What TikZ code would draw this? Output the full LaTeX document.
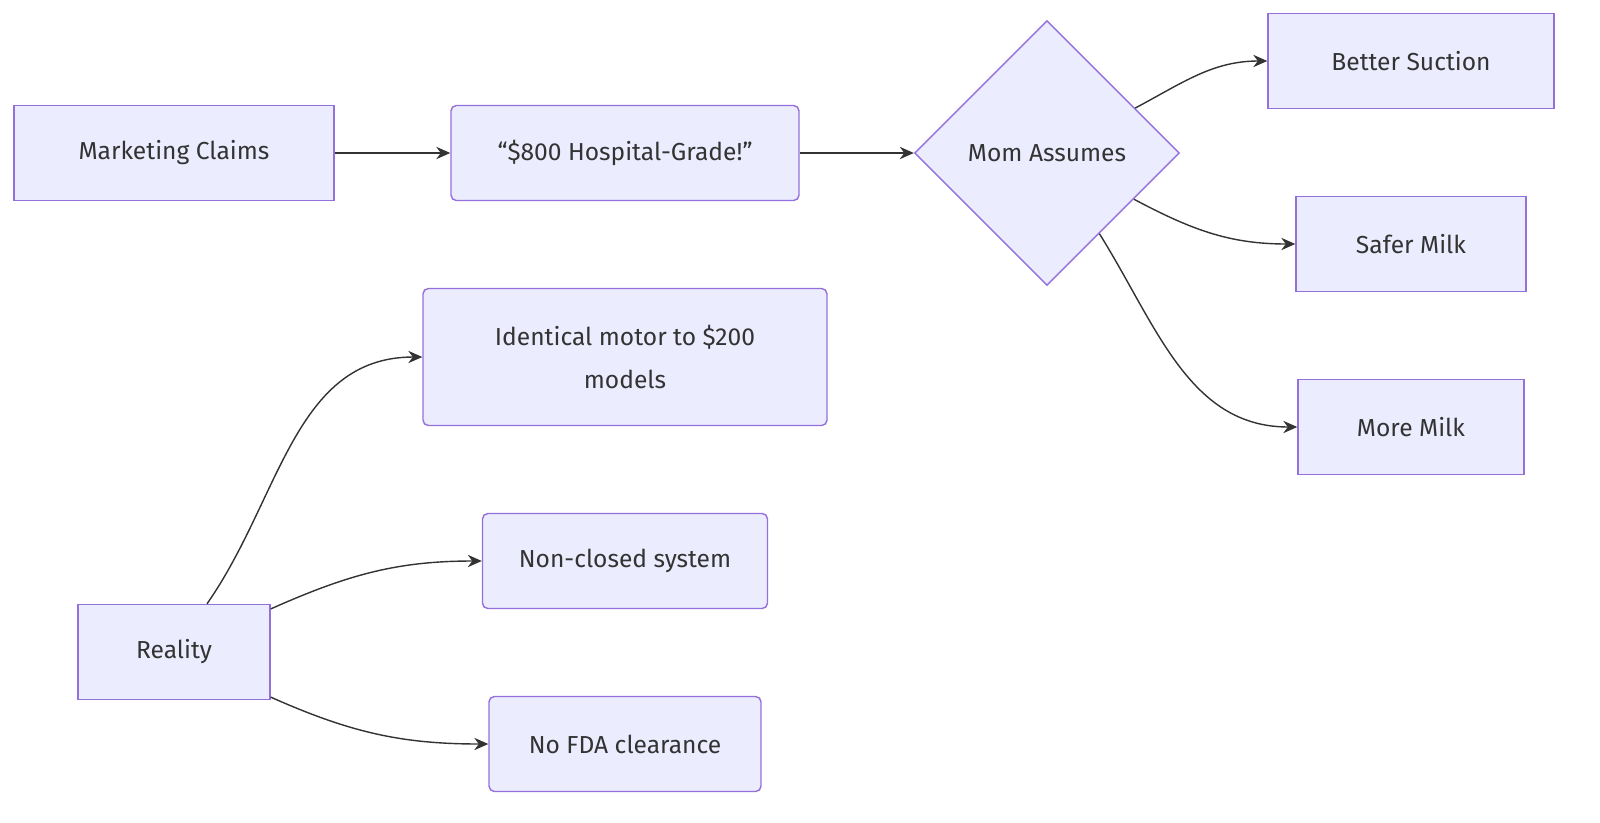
\documentclass[tikz,border=0pt]{standalone}
\usepackage{fontspec}
\setmainfont{Fira Sans}
\usetikzlibrary{shapes.geometric,arrows.meta}
\definecolor{boxfill}{HTML}{ECECFF}
\definecolor{boxline}{HTML}{9370DB}
\definecolor{edge}{HTML}{333333}
\begin{document}
\begin{tikzpicture}[
		x=0.02cm, y=-0.02cm,
		every node/.style = {font=\fontsize{14}{20}\selectfont, text=edge},
		box/.style = {
			draw=boxline,
			fill=boxfill,
			line width=0.8pt,
			minimum height=1.9cm,
			align=center
		},
		rbox/.style = {box, rounded corners=3pt},
		choice/.style = {box, diamond, minimum width=5.3cm, minimum height=5.3cm, inner sep=0pt},
		link/.style = {draw=edge, line width=0.8pt, -{Stealth[length=8pt,width=7pt]}}
	]
	\useasboundingbox (0,0) rectangle (1600,822);
	\node[box, minimum width=6.4cm]    (claims)  at (174,153) {Marketing Claims};
	\node[rbox, minimum width=6.96cm]  (price)   at (625,153) {“\$800 Hospital-Grade!”};
	\node[choice]                      (mom)     at (1047,153) {Mom Assumes};
	\node[box, minimum width=5.72cm]   (suction) at (1411,61)  {Better Suction};
	\node[box, minimum width=4.6cm]    (safer)   at (1411,244) {Safer Milk};
	\node[box, minimum width=4.52cm]   (more)    at (1411,427) {More Milk};
	\node[box, minimum width=3.84cm]   (reality) at (174,652)  {Reality};
	\node[rbox, minimum width=8.08cm, minimum height=2.74cm] (motor) at (625,357) {Identical motor to \$200\\[4pt]models};
	\node[rbox, minimum width=5.7cm]   (open)    at (625,561) {Non-closed system};
	\node[rbox, minimum width=5.44cm]  (fda)     at (625,744) {No FDA clearance};

	\draw[link] (claims) -- (price);
	\draw[link] (price) -- (mom);
	\draw[link] (mom.27) to[out=28,in=180] (suction.west);
	\draw[link] (mom.-28) to[out=-28,in=180] (safer.west);
	\draw[link] (mom.-57) to[out=-58,in=180] (more.west);
	\draw[link] (reality.north) ++(33,0) to[out=55,in=180] (motor.west);
	\draw[link] (reality.24) to[out=24,in=180] (open.west);
	\draw[link] (reality.-25) to[out=-24,in=180] (fda.west);
\end{tikzpicture}
\end{document}
